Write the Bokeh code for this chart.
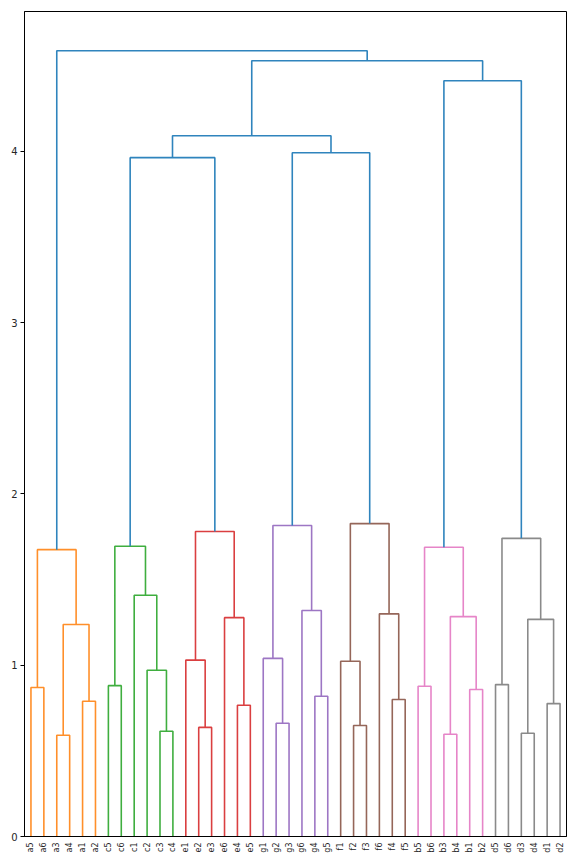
import math
from bokeh.plotting import figure
from bokeh.models import Range1d, FixedTicker
from bokeh.embed import file_html
from bokeh.resources import INLINE

# ---- data ----
leaves = ["a5", "a6", "a3", "a4", "a1", "a2",
          "c5", "c6", "c1", "c2", "c3", "c4",
          "e1", "e2", "e3", "e6", "e4", "e5",
          "g1", "g2", "g3", "g6", "g4", "g5",
          "f1", "f2", "f3", "f6", "f4", "f5",
          "b5", "b6", "b3", "b4", "b1", "b2",
          "d5", "d6", "d3", "d4", "d1", "d2"]

merge_names = ["m1", "m2", "m3", "m4", "m5",
               "m6", "m7", "m8", "m9", "m10",
               "m11", "m12", "m13", "m14", "m15",
               "m16", "m17", "m18", "m19", "m20",
               "m21", "m22", "m23", "m24", "m25",
               "m26", "m27", "m28", "m29", "m30",
               "m31", "m32", "m33", "m34", "m35",
               "m36", "m37", "m38", "m39", "m40", "m41"]
merge_left = ["a5", "a3", "a1", "m2", "m1",
              "c5", "c3", "c2", "c1", "m6",
              "e2", "e1", "e4", "e6", "m12",
              "g2", "g1", "g4", "g6", "m17",
              "f2", "f1", "f4", "f6", "m22",
              "b5", "b3", "b1", "m27", "m26",
              "d5", "d3", "d1", "m32", "m31",
              "m10", "m20", "m36", "m30", "m38", "m5"]
merge_right = ["a6", "a4", "a2", "m3", "m4",
               "c6", "c4", "m7", "m8", "m9",
               "e3", "m11", "e5", "m13", "m14",
               "g3", "m16", "g5", "m18", "m19",
               "f3", "m21", "f5", "m23", "m24",
               "b6", "b4", "b2", "m28", "m29",
               "d6", "d4", "d2", "m33", "m34",
               "m15", "m25", "m37", "m35", "m39", "m40"]
merge_height = [0.870, 0.591, 0.790, 1.238, 1.675,
                0.881, 0.615, 0.971, 1.409, 1.695,
                0.637, 1.030, 0.766, 1.278, 1.781,
                0.661, 1.040, 0.819, 1.320, 1.816,
                0.648, 1.023, 0.800, 1.300, 1.827,
                0.877, 0.597, 0.858, 1.284, 1.689,
                0.887, 0.603, 0.776, 1.268, 1.741,
                3.964, 3.993, 4.092, 4.413, 4.530, 4.588]
merge_group = ["a"] * 5 + ["c"] * 5 + ["e"] * 5 + ["g"] * 5 + ["f"] * 5 + \
              ["b"] * 5 + ["d"] * 5 + ["top"] * 6
y_ticks = [0, 1, 2, 3, 4]

# ---- styles ----
group_colors = {"a": "#ff8f2a", "c": "#3fae3f", "e": "#da3f40", "g": "#9d76c4",
                "f": "#956659", "b": "#e685c8", "d": "#8a8a8a", "top": "#2f84bd"}

# leaf positions as in scipy: 5, 15, 25, ...
pos = {name: 5 + 10 * i for i, name in enumerate(leaves)}
hgt = {name: 0.0 for name in leaves}
xs_list, ys_list, cols = [], [], []
for name, l, r, h, g in zip(merge_names, merge_left, merge_right, merge_height, merge_group):
    xl, xr = pos[l], pos[r]
    xs_list.append([xl, xl, xr, xr])
    ys_list.append([hgt[l], h, h, hgt[r]])
    cols.append(group_colors[g])
    pos[name] = (xl + xr) / 2
    hgt[name] = h

ymax = max(merge_height) * 1.05
p = figure(frame_width=542, frame_height=825, output_backend="svg", toolbar_location=None,
           x_range=Range1d(0, 10 * len(leaves)), y_range=Range1d(0, ymax),
           min_border_left=24, min_border_right=2, min_border_top=11, min_border_bottom=2)
p.multi_line(xs=xs_list, ys=ys_list, line_color=cols, line_width=1.6)

p.xgrid.visible = False
p.ygrid.visible = False
p.outline_line_color = "black"
p.outline_line_width = 1
p.outline_line_alpha = 1.0

xa = p.xaxis[0]
xa.ticker = FixedTicker(ticks=[5 + 10 * i for i in range(len(leaves))])
xa.major_label_overrides = {5 + 10 * i: n for i, n in enumerate(leaves)}
xa.major_label_orientation = math.pi / 2
xa.major_tick_out = 0
xa.major_tick_in = 0
xa.minor_tick_out = 0
xa.minor_tick_in = 0
xa.major_label_standoff = 6
xa.major_label_text_font = "DejaVu Sans"
xa.major_label_text_font_size = "8px"
xa.major_label_text_color = "#262626"
xa.axis_line_color = "black"

ya = p.yaxis[0]
ya.ticker = FixedTicker(ticks=y_ticks)
ya.major_tick_out = 4
ya.major_tick_in = 0
ya.minor_tick_out = 0
ya.minor_tick_in = 0
ya.major_label_standoff = 3
ya.major_label_text_font = "DejaVu Sans"
ya.major_label_text_font_size = "10px"
ya.major_label_text_color = "#262626"
ya.axis_line_color = "black"

p.background_fill_color = "white"
p.border_fill_color = "white"

open("out.html", "w").write(file_html(p, INLINE))
